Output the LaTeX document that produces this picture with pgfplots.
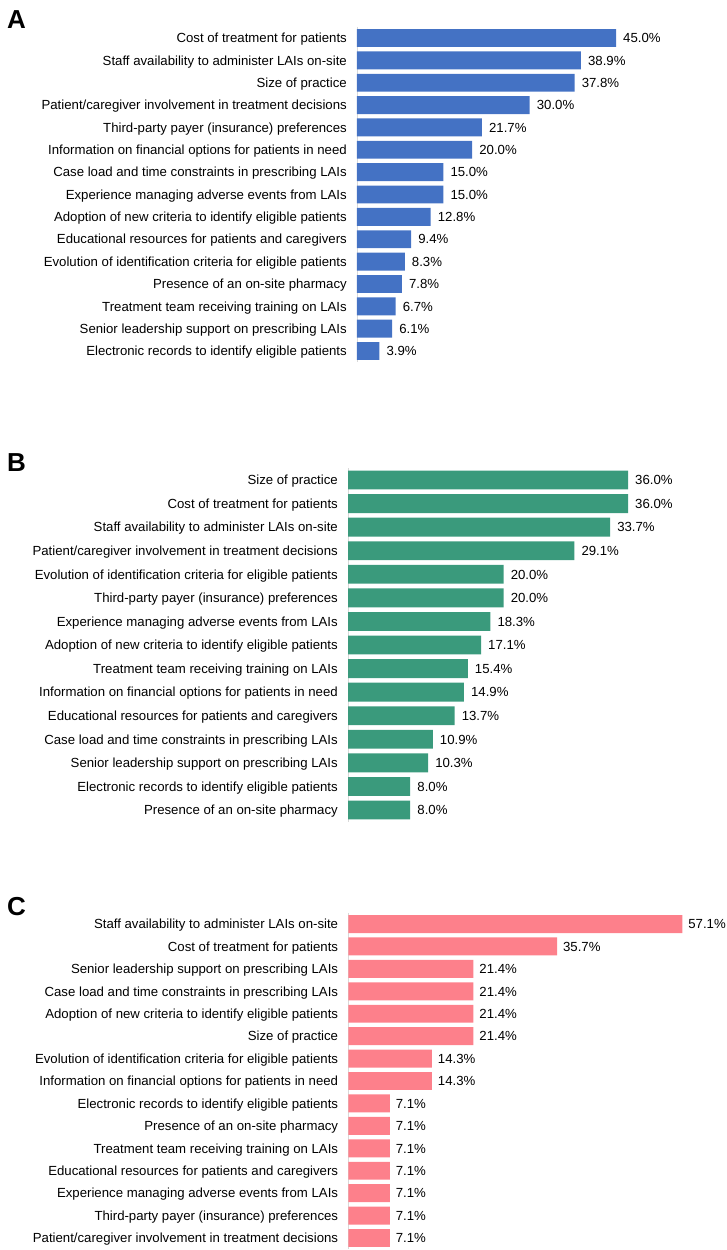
\documentclass[border=0pt]{standalone}
\usepackage{fontspec}
\setmainfont{Liberation Sans}
\usepackage{pgfplots}
\pgfplotsset{compat=1.18}
\definecolor{cA}{HTML}{4472C4}
\definecolor{cB}{HTML}{3A9A7C}
\definecolor{cC}{HTML}{FD808B}
\pgfplotsset{panel/.style={
  xbar, scale only axis, y dir=reverse,
  ymin=-0.5, ymax=14.5, xmin=0,
  axis x line=none, axis y line*=left,
  y axis line style={draw=black!15, line width=0.8pt},
  ytick={0,...,14}, major tick length=0pt, ytick style={draw=none},
  yticklabel style={font=\fontsize{13.2}{15}\selectfont, inner sep=0pt, xshift=-10pt, text height=9.5pt, text depth=0pt},
  bar width=0.8, clip=false,
  point meta=x,
  /pgf/number format/assume math mode=true,
  nodes near coords={\pgfmathprintnumber[fixed,fixed zerofill,precision=1]{\pgfplotspointmeta}\%},
  nodes near coords align=horizontal,
  every node near coord/.append style={font=\fontsize{13.2}{15}\selectfont, inner sep=0pt, xshift=7pt, text=black, anchor=west, text height=9.5pt, text depth=0pt},
}}
\begin{document}
\begin{tikzpicture}
\path[use as bounding box] (0pt,0pt) rectangle (727pt,-1250pt);
\node[anchor=north west, inner sep=0pt, font=\fontsize{26}{30}\selectfont\bfseries] at (7pt,-10pt) {A};
\node[anchor=north west, inner sep=0pt, font=\fontsize{26}{30}\selectfont\bfseries] at (7pt,-453pt) {B};
\node[anchor=north west, inner sep=0pt, font=\fontsize{26}{30}\selectfont\bfseries] at (7pt,-897pt) {C};
% Panel A
\begin{axis}[panel, at={(357pt,-26.8pt)}, anchor=north west,
  width=345.4pt, height=335.4pt, xmax=60,
  yticklabels={Cost of treatment for patients, Staff availability to administer LAIs on-site, Size of practice, Patient/caregiver involvement in treatment decisions, Third-party payer (insurance) preferences, Information on financial options for patients in need, Case load and time constraints in prescribing LAIs, Experience managing adverse events from LAIs, Adoption of new criteria to identify eligible patients, Educational resources for patients and caregivers, Evolution of identification criteria for eligible patients, Presence of an on-site pharmacy, Treatment team receiving training on LAIs, Senior leadership support on prescribing LAIs, Electronic records to identify eligible patients}]
\addplot[fill=cA, draw=none] coordinates {(45.0,0) (38.9,1) (37.8,2) (30.0,3) (21.7,4) (20.0,5) (15.0,6) (15.0,7) (12.8,8) (9.4,9) (8.3,10) (7.8,11) (6.7,12) (6.1,13) (3.9,14)};
\end{axis}
% Panel B
\begin{axis}[panel, at={(348pt,-468.2pt)}, anchor=north west,
  width=350pt, height=353.6pt, xmax=45,
  yticklabels={Size of practice, Cost of treatment for patients, Staff availability to administer LAIs on-site, Patient/caregiver involvement in treatment decisions, Evolution of identification criteria for eligible patients, Third-party payer (insurance) preferences, Experience managing adverse events from LAIs, Adoption of new criteria to identify eligible patients, Treatment team receiving training on LAIs, Information on financial options for patients in need, Educational resources for patients and caregivers, Case load and time constraints in prescribing LAIs, Senior leadership support on prescribing LAIs, Electronic records to identify eligible patients, Presence of an on-site pharmacy}]
\addplot[fill=cB, draw=none] coordinates {(36.0,0) (36.0,1) (33.7,2) (29.1,3) (20.0,4) (20.0,5) (18.3,6) (17.1,7) (15.4,8) (14.9,9) (13.7,10) (10.9,11) (10.3,12) (8.0,13) (8.0,14)};
\end{axis}
% Panel C
\begin{axis}[panel, at={(348.3pt,-912.8pt)}, anchor=north west,
  width=351pt, height=336.4pt, xmax=60,
  every node near coord/.append style={xshift=-1.2pt},
  yticklabels={Staff availability to administer LAIs on-site, Cost of treatment for patients, Senior leadership support on prescribing LAIs, Case load and time constraints in prescribing LAIs, Adoption of new criteria to identify eligible patients, Size of practice, Evolution of identification criteria for eligible patients, Information on financial options for patients in need, Electronic records to identify eligible patients, Presence of an on-site pharmacy, Treatment team receiving training on LAIs, Educational resources for patients and caregivers, Experience managing adverse events from LAIs, Third-party payer (insurance) preferences, Patient/caregiver involvement in treatment decisions}]
\addplot[fill=cC, draw=none] coordinates {(57.1,0) (35.7,1) (21.4,2) (21.4,3) (21.4,4) (21.4,5) (14.3,6) (14.3,7) (7.1,8) (7.1,9) (7.1,10) (7.1,11) (7.1,12) (7.1,13) (7.1,14)};
\end{axis}
\end{tikzpicture}
\end{document}
